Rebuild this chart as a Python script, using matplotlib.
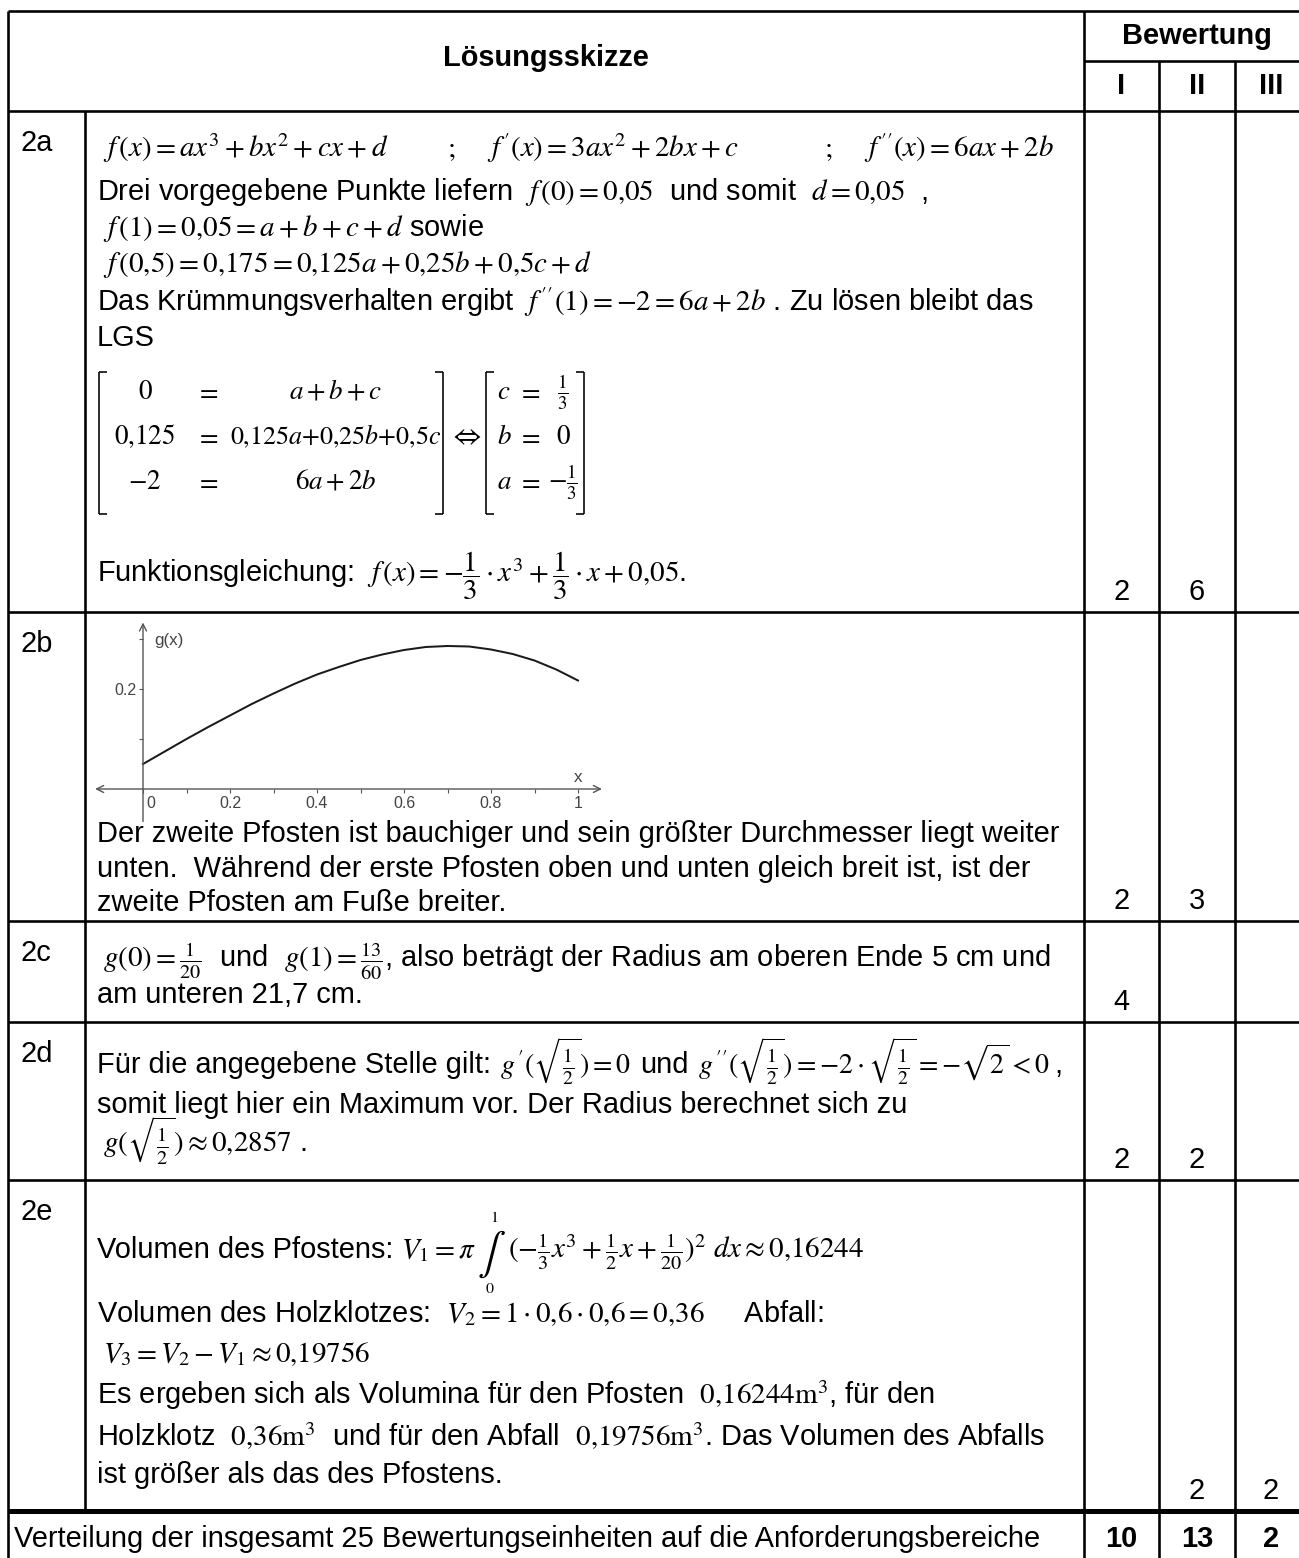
import matplotlib
matplotlib.use("Agg")
import matplotlib.pyplot as plt
from matplotlib.lines import Line2D
import matplotlib.transforms as mtransforms

# ---------------- data ----------------
row_labels = ["2a", "2b", "2c", "2d", "2e"]
scores_I = ["2", "2", "4", "2", ""]
scores_II = ["6", "3", "", "2", "2"]
scores_III = ["", "", "", "", "2"]
totals = ["10", "13", "2"]
level_labels = ["I", "II", "III"]

# sketch of g(x)
plot_x = [0.0, 0.05, 0.1, 0.15, 0.2, 0.25, 0.3, 0.35, 0.4, 0.45, 0.5,
          0.55, 0.6, 0.65, 0.7, 0.75, 0.8, 0.85, 0.9, 0.95, 1.0]
plot_g = [0.050, 0.075, 0.100, 0.124, 0.147, 0.170, 0.191, 0.211, 0.229, 0.244, 0.258,
          0.269, 0.278, 0.284, 0.286, 0.285, 0.279, 0.270, 0.257, 0.239, 0.217]
xtick_major = [0, 0.2, 0.4, 0.6, 0.8, 1]
xtick_labels = ["0", "0.2", "0.4", "0.6", "0.8", "1"]
xtick_minor = [0.1, 0.3, 0.5, 0.7, 0.9]
ytick_vals = [0.1, 0.2, 0.3]
ytick_labels = ["", "0.2", ""]

# ---------------- setup ----------------
W, H, DPI = 1299, 1558, 100
plt.rcParams["mathtext.fontset"] = "stix"
plt.rcParams["font.family"] = ["Liberation Sans", "DejaVu Sans"]
fig = plt.figure(figsize=(W / DPI, H / DPI), dpi=DPI)
fig.patch.set_facecolor("white")
renderer = fig.canvas.get_renderer()

FS = 29  # px


def fx(x):
    return x / W


def fy(y):
    return 1 - y / H


def pt(px):
    return px * 72 / DPI


def txt(x, y, s, size=FS, ha="left", va="baseline", weight="normal", **kw):
    return fig.text(fx(x), fy(y), s, fontsize=pt(size), ha=ha, va=va, weight=weight, **kw)


def seq(x, y, parts):
    """draw text parts one after another; each part: (string, size, gap)"""
    for s, size, gap in parts:
        t = txt(x + gap, y, s, size=size)
        bb = t.get_window_extent(renderer)
        x = bb.x1
    return x


def line(x0, y0, x1, y1, lw=2.6, color="black"):
    fig.add_artist(Line2D([fx(x0), fx(x1)], [fy(y0), fy(y1)], color=color,
                          lw=pt(lw), transform=fig.transFigure, solid_capstyle="butt"))


# ---------------- table grid ----------------
XL, XC, XB1, XB2, XB3, XR = 8, 85, 1084, 1159, 1235, 1310
YT, YS, YH = 11, 61, 111
row_tops = [111, 612, 921, 1022, 1180]
YLAST = 1511
YB = 1558

line(XL, YT, XR, YT)
line(XB1, YS, XR, YS)
line(XL, YH, XR, YH)
for yy in row_tops[1:]:
    line(XL, yy, XR, yy)
line(XL, YLAST, XR, YLAST, lw=5)
line(XL, YT, XL, YB)
line(XC, YH, XC, YLAST)
line(XB1, YT, XB1, YB)
line(XB2, YS, XB2, YB)
line(XB3, YS, XB3, YB)

# header
txt((XL + XB1) / 2, 58, "Lösungsskizze", ha="center", va="center", weight="bold")
txt((XB1 + XR) / 2, 36, "Bewertung", ha="center", va="center", weight="bold")
col_centers = [(XB1 + XB2) / 2, (XB2 + XB3) / 2, 1271]
for cx, lab in zip(col_centers, level_labels):
    txt(cx, 86, lab, ha="center", va="center", weight="bold")

# row labels and scores
row_bottoms = row_tops[1:] + [YLAST]
for top, bot, lab, s1, s2, s3 in zip(row_tops, row_bottoms, row_labels,
                                     scores_I, scores_II, scores_III):
    txt(21, top + 40, lab)
    for cx, s in zip(col_centers, [s1, s2, s3]):
        if s:
            txt(cx, bot - 12, s, ha="center")

# last row
txt(14, 1547, "Verteilung der insgesamt 25 Bewertungseinheiten auf die Anforderungsbereiche")
for cx, s in zip(col_centers, totals):
    txt(cx, 1547, s, ha="center", weight="bold")

# ---------------- 2a ----------------
TX = 97
MX = 103
txt(MX, 157, r"$f\,(x) = ax^3+bx^2+cx+d$")
txt(447, 157, r"$;$")
txt(487, 157, r"$f\,'(x) = 3ax^2+2bx+c$")
txt(824, 157, r"$;$")
txt(864, 157, r"$f\,''(x) = 6ax+2b$")
txt(TX, 200, r"Drei vorgegebene Punkte liefern  $f\,(0)=0{,}05$  und somit  $d=0{,}05$  ,")
txt(MX, 236, r"$f\,(1)=0{,}05=a+b+c+d$ sowie")
txt(MX, 272, r"$f\,(0{,}5)=0{,}175=0{,}125a+0{,}25b+0{,}5c+d$")
txt(TX, 311, r"Das Krümmungsverhalten ergibt  $f\,''(1)=-2=6a+2b$ . Zu lösen bleibt das")
txt(TX, 346, "LGS")

# LGS matrices
MS = 27
mat_rows_y = [399, 444, 489]
left_cells = [(r"$0$", r"$=$", r"$a+b+c$"),
              (r"$0{,}125$", r"$=$", r"$0{,}125a{+}0{,}25b{+}0{,}5c$"),
              (r"$-2$", r"$=$", r"$6a+2b$")]
right_cells = [(r"$c$", r"$=$", r"$\frac{1}{3}$"),
               (r"$b$", r"$=$", r"$0$"),
               (r"$a$", r"$=$", r"$-\frac{1}{3}$")]
for yy, (c1, c2, c3) in zip(mat_rows_y, left_cells):
    txt(145, yy, c1, size=MS, ha="center")
    txt(208, yy, c2, size=MS, ha="center")
    txt(336, yy, c3, size=26 if "125a" in c3 else MS, ha="center")
for yy, (c1, c2, c3) in zip(mat_rows_y, right_cells):
    txt(497, yy, c1, size=MS, ha="left")
    txt(530, yy, c2, size=MS, ha="center")
    txt(563, yy, c3, size=MS, ha="center")


def bracket(x, y0, y1, side, lw=1.6, arm=8):
    d = arm if side == "left" else -arm
    line(x, y0, x, y1, lw=lw)
    line(x, y0, x + d, y0, lw=lw)
    line(x, y1, x + d, y1, lw=lw)


bracket(99, 372, 514, "left")
bracket(443, 372, 514, "right")
bracket(486, 372, 514, "left")
bracket(584, 372, 514, "right")
txt(465, 444, r"$\Leftrightarrow$", ha="center")

txt(TX, 582, r"Funktionsgleichung:  $f\,(x)=-\dfrac{1}{3}\cdot x^3+\dfrac{1}{3}\cdot x+0{,}05$.")

# ---------------- 2b: small graph ----------------
x0px, x1px = 143, 578
y0px, y02px = 789, 689
ux = x1px - x0px
uy = (y0px - y02px) / 0.2
xmin, xmax = -0.11, 1.055
ymin, ymax = -0.065, 0.336
left_px = x0px + xmin * ux
right_px = x0px + xmax * ux
bottom_px = y0px - ymin * uy
top_px = y0px - ymax * uy
ax = fig.add_axes([fx(left_px), fy(bottom_px), (right_px - left_px) / W, (bottom_px - top_px) / H])
ax.set_xlim(xmin, xmax)
ax.set_ylim(ymin, ymax)
ax.patch.set_alpha(0)
grey = "#555555"
for sp in ["top", "right", "left", "bottom"]:
    ax.spines[sp].set_visible(False)
ax.spines["left"].set_position(("data", 0))
ax.spines["bottom"].set_position(("data", 0))
ax.annotate("", xy=(xmax, 0), xytext=(xmin, 0),
            arrowprops=dict(arrowstyle="<->,head_length=0.5,head_width=0.25", color=grey, lw=1.0,
                            shrinkA=0, shrinkB=0))
ax.annotate("", xy=(0, ymax - 0.003), xytext=(0, ymin),
            arrowprops=dict(arrowstyle="->,head_length=0.5,head_width=0.25", color=grey, lw=1.0,
                            shrinkA=0, shrinkB=0))
ax.set_xticks(xtick_major)
ax.set_xticklabels(xtick_labels)
ax.set_xticks(xtick_minor, minor=True)
ax.set_yticks(ytick_vals)
ax.set_yticklabels(ytick_labels)
ax.tick_params(axis="both", which="both", direction="out", length=3, width=0.8, color=grey,
               labelcolor="#444444", labelsize=pt(16), pad=2)
offset = mtransforms.ScaledTranslation(8 / DPI, 0, fig.dpi_scale_trans)
for lab in ax.get_xticklabels():
    if lab.get_text() == "0":
        lab.set_transform(lab.get_transform() + offset)
ax.plot(plot_x, plot_g, color="#1a1a1a", lw=pt(2))
ax.text(0.025, 0.297, "g(x)", fontsize=pt(17), color="#444444", va="center", ha="left")
ax.text(1.0, 0.024, "x", fontsize=pt(17), color="#444444", va="center", ha="center")

# 2b text
txt(TX, 842, "Der zweite Pfosten ist bauchiger und sein größter Durchmesser liegt weiter")
txt(TX, 877, "unten.  Während der erste Pfosten oben und unten gleich breit ist, ist der")
txt(TX, 911, "zweite Pfosten am Fuße breiter.")

# ---------------- 2c ----------------
txt(MX, 967, r"$g(0)=\frac{1}{20}$  und  $g(1)=\frac{13}{60}$, also beträgt der Radius am oberen Ende 5 cm und")
txt(TX, 1003, "am unteren 21,7 cm.")

# ---------------- 2d ----------------
seq(TX, 1073, [("Für die angegebene Stelle gilt:", FS, 0),
               (r"$g\,'(\sqrt{\frac{1}{2}})=0$", 28, 9),
               ("und", FS, 9),
               (r"$g\,''(\sqrt{\frac{1}{2}})=-2\cdot\sqrt{\frac{1}{2}}=-\sqrt{2}<0$", 28, 9),
               (",", FS, 5)])
txt(TX, 1113, "somit liegt hier ein Maximum vor. Der Radius berechnet sich zu")
txt(MX, 1153, r"$g(\sqrt{\frac{1}{2}})\approx 0{,}2857$ .")

# ---------------- 2e ----------------
yb = 1258
xe = seq(TX, yb, [("Volumen des Pfostens: ", FS, 0),
                  (r"$V_1=\pi$", FS, 0)])
t_int = txt(xe + 1, yb + 7, r"$\int$", size=42)
bb = t_int.get_window_extent(renderer)
xi = (bb.x0 + bb.x1) / 2
txt(xi + 2, yb - 36, r"$1$", size=16, ha="center")
txt(xi - 2, yb + 35, r"$0$", size=16, ha="center")
txt(bb.x1 + 2, yb, r"$(-\frac{1}{3}x^3+\frac{1}{2}x+\frac{1}{20})^2\ dx\approx 0{,}16244$")

txt(TX, 1322, r"Volumen des Holzklotzes:  $V_2=1\cdot 0{,}6\cdot 0{,}6=0{,}36$     Abfall:")
txt(MX, 1362, r"$V_3=V_2-V_1\approx 0{,}19756$")
txt(TX, 1404, r"Es ergeben sich als Volumina für den Pfosten  $0{,}16244\mathrm{m}^3$, für den")
txt(TX, 1446, r"Holzklotz  $0{,}36\mathrm{m}^3$  und für den Abfall  $0{,}19756\mathrm{m}^3$. Das Volumen des Abfalls")
txt(TX, 1483, "ist größer als das des Pfostens.")

fig.savefig("out.png", dpi=DPI, facecolor="white")
